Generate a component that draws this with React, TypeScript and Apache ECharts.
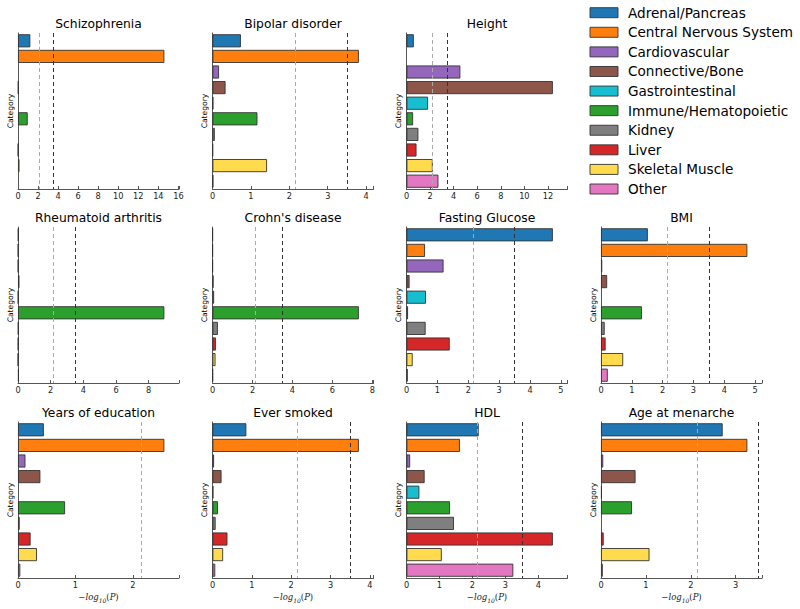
import React, { useEffect, useRef } from 'react';
import * as echarts from 'echarts';

const categories = [
  'Adrenal/Pancreas',
  'Central Nervous System',
  'Cardiovascular',
  'Connective/Bone',
  'Gastrointestinal',
  'Immune/Hematopoietic',
  'Kidney',
  'Liver',
  'Skeletal Muscle',
  'Other',
];
const colors = ['#1f77b4', '#ff7f0e', '#9467bd', '#8c564b', '#17becf', '#2ca02c', '#7f7f7f', '#d62728', '#ffdb4d', '#e377c2'];

const traits = [
  'Schizophrenia', 'Bipolar disorder', 'Height',
  'Rheumatoid arthritis', "Crohn's disease", 'Fasting Glucose', 'BMI',
  'Years of education', 'Ever smoked', 'HDL', 'Age at menarche',
];

// -log10(P) per category (null = no bar)
const schizophrenia = [1.23, 14.6, null, 0.05, null, 0.97, null, 0.03, 0.15, null];
const bipolar = [0.74, 3.81, 0.17, 0.34, 0.02, 1.17, 0.06, 0.01, 1.42, 0.02];
const height = [0.62, null, 4.57, 12.42, 1.83, 0.56, 1.01, 0.85, 2.23, 2.71];
const rheumatoid = [0.03, 0.02, 0.02, 0.09, 0.02, 8.96, 0.03, 0.02, 0.01, 0.05];
const crohns = [0.01, 0.01, 0.01, 0.05, 0.08, 7.32, 0.27, 0.17, 0.15, 0.02];
const fastingGlucose = [4.74, 0.6, 1.2, 0.1, 0.63, 0.05, 0.62, 1.4, 0.2, 0.04];
const bmi = [1.52, 4.75, 0.04, 0.2, null, 1.33, 0.12, 0.15, 0.72, 0.22];
const yearsEducation = [0.45, 2.55, 0.13, 0.39, null, 0.82, 0.03, 0.22, 0.33, 0.04];
const everSmoked = [0.86, 3.72, 0.04, 0.23, 0.02, 0.14, 0.08, 0.38, 0.27, 0.07];
const hdl = [2.19, 1.62, 0.11, 0.55, 0.39, 1.32, 1.44, 4.44, 1.07, 3.24];
const ageMenarche = [2.71, 3.26, 0.05, 0.77, 0.02, 0.69, null, 0.06, 1.08, 0.04];

const panelValues = [
  schizophrenia, bipolar, height,
  rheumatoid, crohns, fastingGlucose, bmi,
  yearsEducation, everSmoked, hdl, ageMenarche,
];
const tickIntervals = [2, 1, 2, 2, 2, 1, 1, 1, 1, 1, 1];
const thresholds = [2.146, 3.505];

// grid slots (row, col); slot 3 holds the legend
const panelSlots = [
  [0, 0], [0, 1], [0, 2],
  [1, 0], [1, 1], [1, 2], [1, 3],
  [2, 0], [2, 1], [2, 2], [2, 3],
];

const colLeft = [18, 212.5, 406.5, 601];
const rowTop = [33, 227, 422];
const gridW = 161;
const gridH = 156;
const FONT = 'DejaVu Sans';

function buildOption() {
  const grid: any[] = [];
  const xAxis: any[] = [];
  const yAxis: any[] = [];
  const series: any[] = [];
  const title: any[] = [];

  panelValues.forEach((vals, i) => {
    const [r, c] = panelSlots[i];
    const left = colLeft[c];
    const top = rowTop[r];
    const nums = vals.filter((v) => v != null) as number[];
    const max = Math.max(...nums) * 1.1;
    const interval = tickIntervals[i];
    grid.push({ left, top, width: gridW, height: gridH, containLabel: false });
    title.push({
      text: traits[i],
      left: left + gridW / 2,
      top: top - 15,
      textAlign: 'center',
      padding: 0,
      textStyle: { fontFamily: FONT, fontSize: 12.3, fontWeight: 'normal', color: '#000' },
    });
    const isBottom = r === 2;
    xAxis.push({
      type: 'value',
      gridIndex: i,
      min: 0,
      max,
      interval,
      splitLine: { show: false },
      axisLine: { show: true, onZero: false, lineStyle: { color: '#555', width: 1 } },
      axisTick: { show: true, inside: true, length: 3, lineStyle: { color: '#555' } },
      axisLabel: {
        fontFamily: FONT,
        fontSize: 8.2,
        color: '#222',
        margin: 3,
        formatter: (v: number) => {
          const k = v / interval;
          return Math.abs(k - Math.round(k)) < 1e-6 ? String(Math.round(v * 1000) / 1000) : '';
        },
      },
      name: isBottom ? '{a|\u2212log}{b|10}{c|(}{a|P}{c|)}' : '',
      nameLocation: 'middle',
      nameGap: 13,
      nameTextStyle: {
        rich: {
          a: { fontFamily: 'DejaVu Serif', fontStyle: 'italic', fontSize: 8.5, color: '#222', lineHeight: 12 },
          b: { fontFamily: 'DejaVu Serif', fontStyle: 'italic', fontSize: 6, color: '#222', lineHeight: 12, verticalAlign: 'bottom', padding: [5, 0, 0, 0] },
          c: { fontFamily: 'DejaVu Serif', fontSize: 8.5, color: '#222', lineHeight: 12 },
        },
      },
    });
    yAxis.push({
      type: 'category',
      gridIndex: i,
      data: categories,
      inverse: true,
      axisLine: { show: true, lineStyle: { color: '#555', width: 1 } },
      axisTick: { show: false },
      axisLabel: { show: false },
      splitLine: { show: false },
      name: 'Category',
      nameLocation: 'middle',
      nameRotate: 90,
      nameGap: 4,
      nameTextStyle: { fontFamily: FONT, fontSize: 7.6, color: '#000' },
    });
    series.push({
      type: 'bar',
      name: traits[i],
      xAxisIndex: i,
      yAxisIndex: i,
      barWidth: '84%',
      data: vals.map((v, j) =>
        v == null
          ? '-'
          : { value: v, itemStyle: { color: colors[j], borderColor: '#333', borderWidth: 0.9 } }
      ),
      markLine: {
        silent: true,
        symbol: ['none', 'none'],
        label: { show: false },
        animation: false,
        data: thresholds
          .map((t, k) => ({ t, k }))
          .filter((o) => o.t < max)
          .map((o) => ({
            xAxis: o.t,
            lineStyle: { color: o.k === 0 ? '#aaaaaa' : '#333333', type: [4, 3], width: 1 },
          })),
      },
    });
  });

  // legend drawn with graphic elements
  const graphic: any[] = [];
  categories.forEach((cat, j) => {
    const cy = 12.7 + j * 19.59;
    graphic.push({
      type: 'rect',
      shape: { x: 590, y: cy - 5, width: 28, height: 10 },
      style: { fill: colors[j], stroke: '#333', lineWidth: 0.9 },
    });
    graphic.push({
      type: 'text',
      x: 628,
      y: cy,
      style: { text: cat, fontFamily: FONT, fontSize: 13.6, fill: '#000', verticalAlign: 'middle', align: 'left' },
    });
  });

  return { animation: false, backgroundColor: '#fff', title, grid, xAxis, yAxis, series, graphic };
}

export default function App() {
  const ref = useRef<HTMLDivElement>(null);
  useEffect(() => {
    if (!ref.current) return;
    const chart = echarts.init(ref.current, undefined, { renderer: 'svg' });
    chart.setOption(buildOption() as any);
    return () => chart.dispose();
  }, []);
  return <div ref={ref} style={{ width: 800, height: 609, position: 'absolute', left: 0, top: 0 }} />;
}
